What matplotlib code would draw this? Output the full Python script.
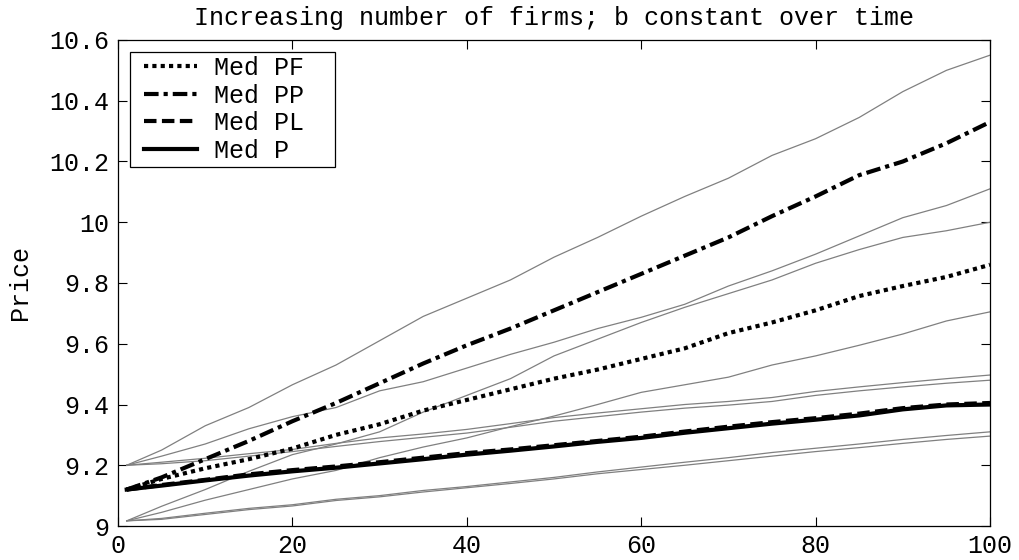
import numpy as np
import matplotlib
matplotlib.use('Agg')
import matplotlib.pyplot as plt
from matplotlib.ticker import FuncFormatter
from matplotlib.legend_handler import HandlerLine2D

plt.rcParams['font.family'] = ['Liberation Mono', 'DejaVu Sans Mono']

t = [1, 5, 10, 15, 20, 25, 30, 35, 40, 45, 50, 55, 60, 65, 70, 75, 80, 85, 90, 95, 100]

# medians
med_pf = [9.12, 9.155, 9.19, 9.22, 9.255, 9.30, 9.335, 9.38, 9.415, 9.45, 9.485,
          9.515, 9.55, 9.585, 9.635, 9.67, 9.71, 9.757, 9.79, 9.82, 9.86]
med_pp = [9.12, 9.16, 9.22, 9.28, 9.345, 9.405, 9.47, 9.535, 9.595, 9.65, 9.71,
          9.77, 9.83, 9.89, 9.95, 10.02, 10.085, 10.155, 10.20, 10.26, 10.33]
med_pl = [9.12, 9.135, 9.152, 9.17, 9.184, 9.196, 9.21, 9.225, 9.24, 9.252, 9.266,
          9.28, 9.294, 9.311, 9.327, 9.342, 9.355, 9.37, 9.388, 9.40, 9.405]
med_p = [9.12, 9.133, 9.15, 9.166, 9.18, 9.192, 9.206, 9.22, 9.235, 9.248, 9.262,
         9.277, 9.29, 9.307, 9.322, 9.337, 9.35, 9.364, 9.384, 9.397, 9.40]

# gray band lines
pp_hi = [9.20, 9.25, 9.33, 9.39, 9.465, 9.53, 9.61, 9.69, 9.75, 9.81, 9.885,
         9.95, 10.02, 10.085, 10.145, 10.22, 10.275, 10.345, 10.43, 10.50, 10.55]
pp_lo = [9.20, 9.23, 9.27, 9.32, 9.36, 9.39, 9.445, 9.475, 9.52, 9.565, 9.605,
         9.65, 9.687, 9.73, 9.79, 9.84, 9.895, 9.955, 10.015, 10.055, 10.11]
pf_hi = [9.017, 9.065, 9.12, 9.18, 9.235, 9.27, 9.31, 9.375, 9.43, 9.485, 9.56,
         9.615, 9.67, 9.72, 9.765, 9.81, 9.865, 9.91, 9.95, 9.972, 10.00]
pf_lo = [9.017, 9.045, 9.085, 9.12, 9.155, 9.183, 9.225, 9.26, 9.29, 9.327, 9.362,
         9.40, 9.44, 9.465, 9.49, 9.53, 9.56, 9.595, 9.632, 9.675, 9.705]
pl_hi = [9.20, 9.21, 9.223, 9.238, 9.252, 9.272, 9.29, 9.303, 9.318, 9.337, 9.357,
         9.372, 9.386, 9.40, 9.41, 9.423, 9.443, 9.458, 9.472, 9.485, 9.497]
p_hi = [9.20, 9.205, 9.215, 9.23, 9.245, 9.262, 9.278, 9.292, 9.306, 9.325, 9.345,
        9.36, 9.375, 9.388, 9.398, 9.41, 9.43, 9.445, 9.458, 9.47, 9.48]
pl_lo = [9.017, 9.025, 9.042, 9.058, 9.07, 9.088, 9.10, 9.117, 9.13, 9.145, 9.16,
         9.178, 9.194, 9.21, 9.225, 9.242, 9.256, 9.27, 9.285, 9.298, 9.31]
p_lo = [9.017, 9.022, 9.038, 9.054, 9.066, 9.084, 9.096, 9.112, 9.126, 9.14, 9.155,
        9.172, 9.186, 9.2, 9.215, 9.23, 9.245, 9.258, 9.272, 9.285, 9.296]

fig = plt.figure(figsize=(10.2, 5.6), dpi=100)
ax = fig.add_axes([0.1157, 0.0607, 0.8549, 0.8679])

for band in [pp_hi, pp_lo, pf_hi, pf_lo, pl_hi, p_hi, pl_lo, p_lo]:
    ax.plot(t, band, color='#808080', lw=0.9)

ax.plot(t, med_pf, color='black', lw=3, linestyle=(0, (1, 1)), label='Med PF')
ax.plot(t, med_pp, color='black', lw=3, linestyle=(0, (3.5, 1.2, 1, 1.2)), label='Med PP')
ax.plot(t, med_pl, color='black', lw=3, linestyle=(0, (3, 1.3)), label='Med PL')
ax.plot(t, med_p, color='black', lw=3, linestyle='-', label='Med P')

ax.set_xlim(0, 100)
ax.set_ylim(9, 10.6)
ax.set_xticks(np.arange(0, 101, 20))
ax.set_yticks(np.arange(9, 10.61, 0.2))
ax.yaxis.set_major_formatter(FuncFormatter(lambda v, p: '%g' % round(v, 1)))
ax.tick_params(direction='in', length=6.5, width=0.8, top=True, right=True,
               labelsize=18, pad=6)
for s in ax.spines.values():
    s.set_linewidth(0.9)

ax.set_title('Increasing number of firms; b constant over time', fontsize=18, pad=11)
ax.set_ylabel('Price', fontsize=18, labelpad=13)

handles, labels = ax.get_legend_handles_labels()
hmap = {h: HandlerLine2D(xpad=0.4) for h in handles}
leg = ax.legend(handles, labels, loc='upper left',
                bbox_to_anchor=(0.0138, 0.5, 0.2351, 0.4753), mode='expand',
                fontsize=18, frameon=True, fancybox=False,
                edgecolor='black', framealpha=1, handlelength=2.5,
                handletextpad=0.7, labelspacing=0.14, borderaxespad=0,
                borderpad=0.17, handler_map=hmap)
leg.get_frame().set_linewidth(0.9)

fig.savefig('out.png', dpi=100)
